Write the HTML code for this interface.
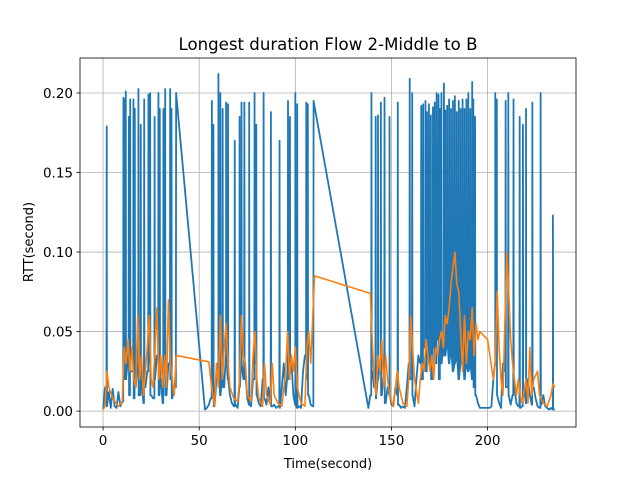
<!DOCTYPE html>
<html><head><meta charset="utf-8"><style>
body{margin:0;background:#fff}
svg{font-family:"DejaVu Sans","Liberation Sans",sans-serif}
</style></head><body>
<svg id="chart" width="640" height="480" xmlns="http://www.w3.org/2000/svg">
<rect width="640" height="480" fill="#fff"/>
<g id="grid"></g>
<g id="plot"></g>
<g id="axes"></g>
<text x="328" y="50" text-anchor="middle" font-size="16.6">Longest duration Flow 2-Middle to B</text>
<text x="328" y="468" text-anchor="middle" font-size="13">Time(second)</text>
<text transform="translate(33,242) rotate(-90)" text-anchor="middle" font-size="13">RTT(second)</text>
</svg>
<script>
const xTicks=[0,50,100,150,200];
const yTicks=[0,0.05,0.10,0.15,0.20];
const yTickLabels=["0.00","0.05","0.10","0.15","0.20"];
const lowSegStart=[0,53,138];
const lowSeg1=[0.001,0.015,0.003,0.012,0.002,0.014,0.003,0.002,0.012,0.003,0.006,0.03,0.02,0.035,0.01,0.025,0.008,0.015,0.03,0.01,0.02,0.005,0.015,0.025,0.03,0.01,0.008,0.02,0.035,0.01,0.02,0.005,0.025,0.01,0.03,0.02,0.008,0.015];
const lowSeg2=[0.001,0.002,0.004,0.008,0.015,0.003,0.02,0.03,0.01,0.025,0.015,0.035,0.02,0.01,0.005,0.003,0.004,0.002,0.015,0.03,0.02,0.025,0.008,0.004,0.003,0.02,0.03,0.01,0.005,0.003,0.02,0.008,0.004,0.015,0.005,0.003,0.004,0.002,0.003,0.002,0.015,0.03,0.01,0.025,0.02,0.03,0.01,0.004,0.002,0.003,0.002,0.025,0.035,0.02,0.01,0.004,0.003];
const lowSeg3=[0.002,0.01,0.025,0.015,0.008,0.02,0.03,0.01,0.025,0.005,0.015,0.01,0.004,0.003,0.015,0.01,0.004,0.002,0.003,0.002,0.015,0.03,0.02,0.01,0.003,0.02,0.035,0.03,0.02,0.04,0.025,0.035,0.03,0.02,0.04,0.03,0.045,0.02,0.03,0.04,0.035,0.045,0.03,0.04,0.025,0.03,0.035,0.02,0.03,0.04,0.02,0.03,0.025,0.03,0.02,0.015,0.01,0.005,0.002,0.002,0.002,0.002,0.002,0.002,0.003,0.02,0.03,0.01,0.005,0.002,0.03,0.025,0.015,0.01,0.004,0.01,0.015,0.005,0.003,0.002,0.003,0.015,0.005,0.02,0.01,0.004,0.015,0.008,0.003,0.002,0.004,0.01,0.003,0.002,0.001,0.002,0.001,0.001];
const spikeT=[1.9,10.6,11.2,11.8,13.4,14.1,15.8,16.5,18.4,19.6,21.4,23.6,24.5,26.8,28.8,29.5,31.4,32.3,34.9,35.6,38,56.6,57.4,60,61,62.2,64,65,68.5,71,72,73.5,76,78.8,79.7,83.5,87.3,91.8,96.2,97.2,100,101,105.7,106.5,109.5,139.6,141.8,143,144.5,146.4,149,153.3,159.5,160.8,165.5,166.5,167.7,168.5,169.5,170.5,171.6,172.5,173.5,174.5,175.3,176,177.3,178,179,180,181,182,183,184,185,186,187,188,189,190,191,192,192.6,193.5,204,204.8,209.4,210.8,213.5,216.7,218.4,220,223.3,227.6,234];
const spikeV=[0.179,0.197,0.196,0.201,0.185,0.196,0.196,0.19,0.2025,0.18,0.196,0.199,0.2,0.185,0.2,0.19,0.19,0.2025,0.2025,0.19,0.2,0.195,0.18,0.212,0.2,0.19,0.194,0.193,0.17,0.185,0.194,0.194,0.194,0.2,0.18,0.2,0.188,0.17,0.195,0.185,0.2,0.193,0.194,0.193,0.195,0.2,0.185,0.186,0.194,0.197,0.185,0.194,0.209,0.2,0.192,0.193,0.195,0.188,0.193,0.186,0.191,0.194,0.2,0.199,0.19,0.2,0.206,0.189,0.192,0.196,0.19,0.195,0.198,0.188,0.195,0.19,0.196,0.19,0.196,0.2,0.19,0.207,0.196,0.185,0.2,0.196,0.195,0.2,0.196,0.185,0.18,0.19,0.194,0.2,0.123];
const orangeT=[0,1,2,3,5,8,10,11,12,13,14,15,16,17,18,19,20,21,22,23,24,25,26,28,29,30,31,32,33,34,35,36,37,38,55,56,57,58,59,60,61,62,63,64,65,66,68,70,71,72,73,74,75,77,78,79,80,81,83,84,85,87,88,89,91,93,95,96,97,98,99,100,101,103,105,106,107,108,110,139,140,141,142,143,144,145,146,147,148,149,151,153,154,156,158,159,160,161,162,164,165,166,167,168,169,170,171,172,173,174,175,176,177,178,179,180,181,182,183,184,185,186,187,188,189,190,191,192,193,194,195,196,200,203,204,205,206,207,208,210,211,212,213,214,215,216,217,218,220,221,222,223,224,226,227,229,231,233,234,235];
const orangeV=[0.001,0.003,0.025,0.015,0.008,0.003,0.006,0.04,0.03,0.045,0.025,0.04,0.02,0.015,0.06,0.02,0.035,0.01,0.025,0.04,0.06,0.02,0.015,0.065,0.02,0.035,0.015,0.035,0.015,0.07,0.03,0.02,0.01,0.035,0.031,0.02,0.01,0.003,0.03,0.015,0.06,0.02,0.04,0.055,0.03,0.015,0.008,0.006,0.02,0.06,0.035,0.03,0.01,0.006,0.035,0.05,0.02,0.008,0.003,0.03,0.01,0.004,0.03,0.01,0.005,0.003,0.025,0.05,0.02,0.035,0.025,0.04,0.015,0.005,0.003,0.04,0.05,0.03,0.085,0.074,0.045,0.02,0.01,0.035,0.025,0.045,0.015,0.035,0.02,0.01,0.003,0.025,0.015,0.005,0.003,0.02,0.06,0.04,0.02,0.005,0.02,0.03,0.025,0.045,0.035,0.025,0.035,0.02,0.04,0.035,0.045,0.05,0.04,0.06,0.055,0.065,0.08,0.09,0.1,0.08,0.075,0.05,0.025,0.06,0.03,0.05,0.045,0.065,0.035,0.055,0.045,0.05,0.045,0.02,0.03,0.075,0.04,0.02,0.01,0.1,0.075,0.045,0.03,0.02,0.01,0.02,0.01,0.005,0.02,0.005,0.04,0.01,0.02,0.025,0.01,0.005,0.003,0.01,0.017,0.015];

const L=80,R=576,T=58,B=427,xMin=-12,xMax=246,yMin=-0.01,yMax=0.222;
const X=t=>L+(t-xMin)/(xMax-xMin)*(R-L);
const Y=v=>B-(v-yMin)/(yMax-yMin)*(B-T);
const NS="http://www.w3.org/2000/svg";
function mk(tag,attrs,parent){const e=document.createElementNS(NS,tag);for(const k in attrs)e.setAttribute(k,attrs[k]);parent.appendChild(e);return e;}
const grid=document.getElementById('grid'),plot=document.getElementById('plot'),axes=document.getElementById('axes');
xTicks.forEach(t=>{
  const g=mk('line',{x1:X(t),x2:X(t),y1:T,y2:B,stroke:'#b0b0b0','stroke-width':0.8},grid);
  
  
  mk('line',{x1:X(t),x2:X(t),y1:B,y2:B+3.5,stroke:'#000','stroke-width':0.8},axes);
  const tx=mk('text',{x:X(t),y:B+18,'text-anchor':'middle','font-size':13.5},axes);
  tx.textContent=t;
  
  
});
yTicks.forEach((v,i)=>{
  const g=mk('line',{x1:L,x2:R,y1:Y(v),y2:Y(v),stroke:'#b0b0b0','stroke-width':0.8},grid);
  
  
  mk('line',{x1:L-3.5,x2:L,y1:Y(v),y2:Y(v),stroke:'#000','stroke-width':0.8},axes);
  const tx=mk('text',{x:L-7,y:Y(v)+5,'text-anchor':'end','font-size':13.5},axes);
  tx.textContent=yTickLabels[i];
  
  
});
const lows=[];
[lowSeg1,lowSeg2,lowSeg3].forEach((seg,s)=>seg.forEach((v,i)=>lows.push([lowSegStart[s]+i,v])));
function lowNear(t,dir){
  let best=null;
  lows.forEach(p=>{const d=(p[0]-t)*dir;if(d>=0&&d<=1.5&&(!best||d<(best[0]-t)*dir))best=p;});
  return best;
}
const pts=lows.slice();
spikeT.forEach((t,i)=>{
  const b=lowNear(t,-1),a=lowNear(t,1);
  if(b)pts.push([t-0.12,b[1]]);
  pts.push([t,spikeV[i]]);
  if(a)pts.push([t+0.12,a[1]]);
});
pts.sort((p,q)=>p[0]-q[0]);
const bp=mk('polyline',{points:pts.map(p=>X(p[0]).toFixed(2)+','+Y(p[1]).toFixed(2)).join(' '),fill:'none',stroke:'#1f77b4','stroke-width':1.8,'stroke-linejoin':'round'},plot);


const op=mk('polyline',{points:orangeT.map((t,i)=>X(t)+','+Y(orangeV[i])).join(' '),fill:'none',stroke:'#ff7f0e','stroke-width':1.6,'stroke-linejoin':'round'},plot);


const fr=mk('rect',{x:L,y:T,width:R-L,height:B-T,fill:'none',stroke:'#000','stroke-width':0.8},axes);


</script>
</body></html>
